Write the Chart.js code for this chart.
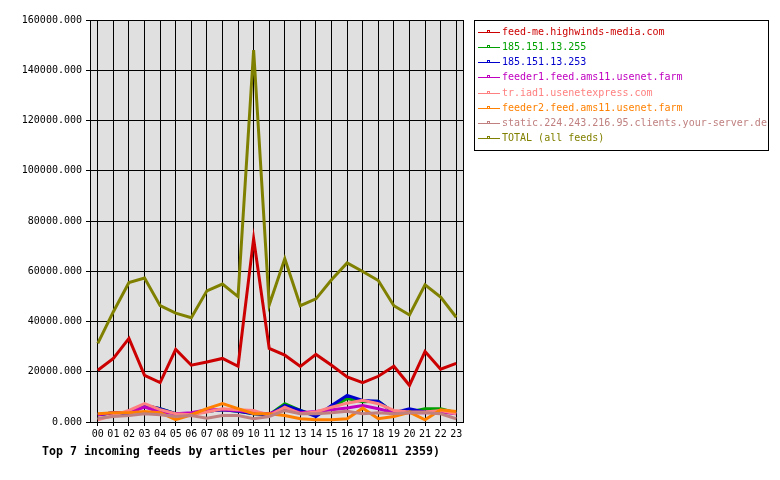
<!DOCTYPE html>
<html>
<head>
<meta charset="utf-8">
<script src="https://cdn.jsdelivr.net/npm/chart.js@4/dist/chart.umd.min.js"></script>
<style>
  body { margin: 0; background: #fff; }
  #wrap { position: relative; width: 780px; height: 480px; }
</style>
</head>
<body>
<div id="wrap"><canvas id="feeds" width="780" height="480"></canvas></div>
<script>
const hours = ['00','01','02','03','04','05','06','07','08','09','10','11',
               '12','13','14','15','16','17','18','19','20','21','22','23'];
const yTicks = [0, 20000, 40000, 60000, 80000, 100000, 120000, 140000, 160000];

const feedNames = [
    'feed-me.highwinds-media.com',
    '185.151.13.255',
    '185.151.13.253',
    'feeder1.feed.ams11.usenet.farm',
    'tr.iad1.usenetexpress.com',
    'feeder2.feed.ams11.usenet.farm',
    'static.224.243.216.95.clients.your-server.de',
    'TOTAL (all feeds)'
];
const feedColors = ['#cc0000', '#00a000', '#0000cc', '#c000c0', '#ff8080', '#ff8000', '#c08080', '#808000'];

const highwinds = [20600, 25300, 33300, 18600, 15700, 28900, 22600, 23900, 25300, 22200, 73000, 29300,
                   26600, 22100, 26900, 22600, 17900, 15700, 18200, 22200, 14600, 28100, 21000, 23300];
const ip255     = [2900, 3700, 3300, 6600, 5300, 3300, 3300, 4300, 4900, 4300, 3300, 2900,
                   7300, 4600, 2600, 5900, 9300, 8100, 8300, 3700, 4000, 5300, 5300, 3700];
const ip253     = [2900, 3700, 3300, 6600, 5300, 3300, 3300, 4300, 4900, 4300, 3300, 2900,
                   6600, 4600, 2200, 6600, 10600, 8600, 8300, 3700, 5300, 4000, 4200, 3700];
const feeder1   = [2900, 3700, 3700, 5900, 4000, 3300, 3700, 4900, 4900, 4600, 3700, 3300,
                   5300, 3700, 4200, 4900, 5600, 6600, 5300, 3700, 3700, 3700, 4000, 3300];
const iad1      = [900, 2600, 4600, 7300, 4900, 3300, 2900, 4000, 5300, 4900, 4600, 2600,
                   5900, 3300, 4000, 5900, 7500, 8600, 7300, 4600, 4000, 4000, 4600, 3300];
const feeder2   = [3300, 3700, 3700, 4200, 3700, 900, 2900, 5300, 7300, 5300, 3300, 3300,
                   2600, 1300, 900, 900, 1300, 5500, 1300, 2200, 3900, 900, 4900, 4200];
const yourServer = [1500, 2200, 2600, 3300, 2900, 2200, 2600, 1500, 2600, 2600, 1300, 2200,
                   4600, 3300, 3300, 3700, 4300, 3300, 3700, 3300, 3700, 3700, 3300, 1300];
const total     = [31300, 43900, 55500, 57300, 46300, 43300, 41500, 52200, 54900, 49900, 148000, 46600,
                   65000, 46300, 49000, 56600, 63300, 59900, 56300, 46300, 42600, 54600, 49700, 41700];

const series = [highwinds, ip255, ip253, feeder1, iad1, feeder2, yourServer, total];

const MONO = '"DejaVu Sans Mono", "Liberation Mono", monospace';

// grey plot background plus the black frame
const plotFrame = {
    id: 'plotFrame',
    beforeDraw(chart) {
        const a = chart.chartArea, ctx = chart.ctx;
        ctx.save();
        ctx.fillStyle = '#e0e0e0';
        ctx.fillRect(a.left, a.top, a.right - a.left, a.bottom - a.top);
        ctx.restore();
    },
    afterDraw(chart) {
        const a = chart.chartArea, ctx = chart.ctx;
        ctx.save();
        ctx.strokeStyle = '#000';
        ctx.lineWidth = 1;
        ctx.strokeRect(a.left + 0.5, a.top + 0.5, a.right - a.left - 1, a.bottom - a.top);
        ctx.restore();
    }
};

// boxed legend on the right, text in the series colour
const feedLegend = {
    id: 'feedLegend',
    afterDraw(chart) {
        const ctx = chart.ctx;
        const x0 = 474, y0 = 20, w = 294, h = 130;
        ctx.save();
        ctx.strokeStyle = '#000';
        ctx.lineWidth = 1;
        ctx.strokeRect(x0 + 0.5, y0 + 0.5, w, h);
        ctx.font = '10px ' + MONO;
        ctx.textBaseline = 'middle';
        feedNames.forEach((name, i) => {
            const y = Math.round(32 + i * 15.15);
            const col = feedColors[i];
            ctx.fillStyle = col;
            ctx.fillRect(478, y, 22, 1);
            ctx.fillRect(487, y - 2, 3, 1);
            ctx.fillRect(487, y - 2, 1, 2);
            ctx.fillRect(489, y - 2, 1, 2);
            ctx.fillText(name, 502, y + 0.5);
        });
        ctx.restore();
    }
};

// bold caption under the x axis
const caption = {
    id: 'caption',
    afterDraw(chart) {
        const ctx = chart.ctx;
        ctx.save();
        ctx.font = 'bold 11.6px ' + MONO;
        ctx.fillStyle = '#000';
        ctx.textBaseline = 'middle';
        ctx.fillText('Top 7 incoming feeds by articles per hour (20260811 2359)', 42, 452);
        ctx.restore();
    }
};

const chart = new Chart(document.getElementById('feeds').getContext('2d'), {
    type: 'line',
    data: {
        labels: hours,
        datasets: series.map((vals, i) => ({
            label: feedNames[i],
            data: vals,
            borderColor: feedColors[i],
            backgroundColor: feedColors[i],
            borderWidth: 3,
            pointRadius: 0,
            tension: 0,
            fill: false,
            // later feeds sit on top, like the original drawing
            order: series.length - i
        }))
    },
    options: {
        responsive: false,
        animation: false,
        devicePixelRatio: 1,
        layout: { padding: { top: 20, right: 316, bottom: 0, left: 0 } },
        plugins: {
            legend: { display: false },
            tooltip: { enabled: false }
        },
        scales: {
            x: {
                offset: true,
                grid: { color: '#000', lineWidth: 1, offset: false, tickLength: 4, drawTicks: true },
                border: { display: false },
                ticks: {
                    color: '#000',
                    font: { family: MONO, size: 10 },
                    padding: 2,
                    maxRotation: 0,
                    autoSkip: false
                },
                afterFit(s) { s.height = 58; }
            },
            y: {
                min: 0,
                max: 160000,
                afterBuildTicks(s) { s.ticks = yTicks.map(v => ({ value: v })); },
                grid: { color: '#000', lineWidth: 1, tickLength: 4, drawTicks: true },
                border: { display: false },
                ticks: {
                    color: '#000',
                    font: { family: MONO, size: 10 },
                    padding: 4,
                    callback: v => v.toFixed(3)
                },
                afterFit(s) { s.width = 90; }
            }
        }
    },
    plugins: [plotFrame, feedLegend, caption]
});
</script>
</body>
</html>
